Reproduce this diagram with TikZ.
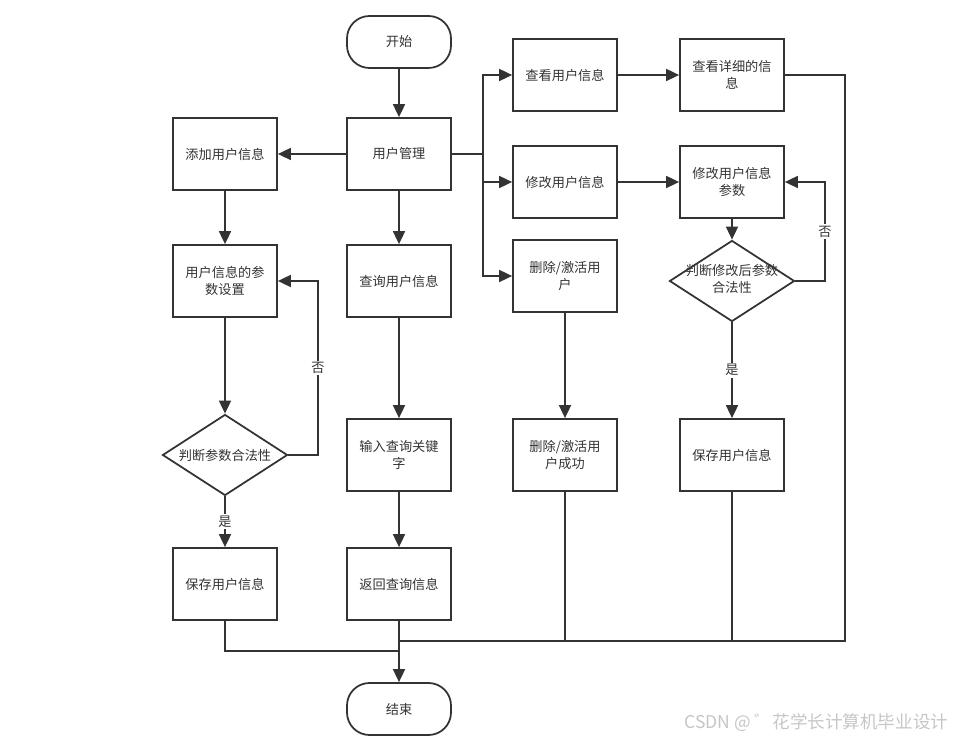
\documentclass[tikz,border=0pt]{standalone}
\usepackage{fontspec}
\setmainfont{Noto Sans CJK SC}
\usetikzlibrary{positioning, arrows.meta, shapes.geometric}

\begin{document}
\begin{tikzpicture}[
  font=\fontsize{7.5}{9.6}\selectfont,
  line width=1pt, color=black!80,
  box/.style={draw, minimum width=2.08cm, minimum height=1.44cm, align=center, inner sep=1pt},
  term/.style={draw, rounded corners=0.45cm, minimum width=2.08cm, minimum height=1.04cm},
  dec/.style={draw, diamond, inner sep=0pt, minimum width=2.5cm, minimum height=1.62cm},
  arr/.style={-{Triangle[length=2.6mm,width=2.4mm]}},
  lbl/.style={fill=white, inner sep=1pt}
]
  \useasboundingbox (0,0) rectangle (19.2,-14.82);

  % middle column
  \node[term] (start) at (7.98,-0.84) {开始};
  \node[box] (mgmt) at (7.98,-3.08) {用户管理};
  \node[box] (query) at (7.98,-5.62) {查询用户信息};
  \node[box] (input) at (7.98,-9.1) {输入查询关键\\字};
  \node[box] (ret) at (7.98,-11.68) {返回查询信息};
  \node[term] (end) at (7.98,-14.18) {结束};

  % left column
  \node[box] (add) at (4.5,-3.08) {添加用户信息};
  \node[box] (param) at (4.5,-5.62) {用户信息的参\\数设置};
  \node[dec] (chk1) at (4.5,-9.1) {\makebox[0pt]{判断参数合法性}};
  \node[box] (save1) at (4.5,-11.68) {保存用户信息};

  % right columns
  \node[box] (view) at (11.3,-1.5) {查看用户信息};
  \node[box] (edit) at (11.3,-3.64) {修改用户信息};
  \node[box] (del) at (11.3,-5.52) {删除/激活用\\户};
  \node[box] (delok) at (11.3,-9.1) {删除/激活用\\户成功};
  \node[box] (detail) at (14.64,-1.5) {查看详细的信\\息};
  \node[box] (editp) at (14.64,-3.64) {修改用户信息\\参数};
  \node[dec] (chk2) at (14.64,-5.62)
    {\makebox[0pt]{\begin{tabular}{@{}c@{}}判断修改后参数\\合法性\end{tabular}}};
  \node[box] (save2) at (14.64,-9.1) {保存用户信息};

  \coordinate (br) at (9.66,-3.08);
  \coordinate (m1) at (7.98,-13.02);
  \coordinate (m2) at (7.98,-12.82);

  \draw[arr] (start) -- (mgmt);
  \draw[arr] (mgmt) -- (add);
  \draw[arr] (mgmt) -- (query);
  \draw (mgmt.east) -- (br);
  \draw[arr] (br) |- (view);
  \draw[arr] (br) |- (edit);
  \draw[arr] (br) |- (del);

  \draw[arr] (add) -- (param);
  \draw[arr] (param) -- (chk1);
  \draw[arr] (chk1.east) -- (6.36,-9.1) |- node[lbl, pos=0.25] {否} (param.east);
  \draw[arr] (chk1) -- node[lbl] {是} (save1);

  \draw[arr] (query) -- (input);
  \draw[arr] (input) -- (ret);
  \draw[arr] (ret) -- (end);

  \draw[arr] (view) -- (detail);
  \draw[arr] (edit) -- (editp);
  \draw[arr] (editp) -- (chk2);
  \draw[arr] (chk2.east) -- (16.5,-5.62) |- node[lbl, pos=0.25] {否} (editp.east);
  \draw[arr] (chk2) -- node[lbl] {是} (save2);
  \draw[arr] (del) -- (delok);

  % to the end
  \draw (save1) |- (m1);
  \draw (delok) |- (m2);
  \draw (save2) |- (m2);
  \draw (detail.east) -| (16.9,-12.82) -- (m2);

  \node[anchor=east, gray!45, font=\fontsize{10}{12}\selectfont] (mark) at (19.1,-14.46)
    {CSDN @ ゛花学长计算机毕业设计};
\end{tikzpicture}
\end{document}
